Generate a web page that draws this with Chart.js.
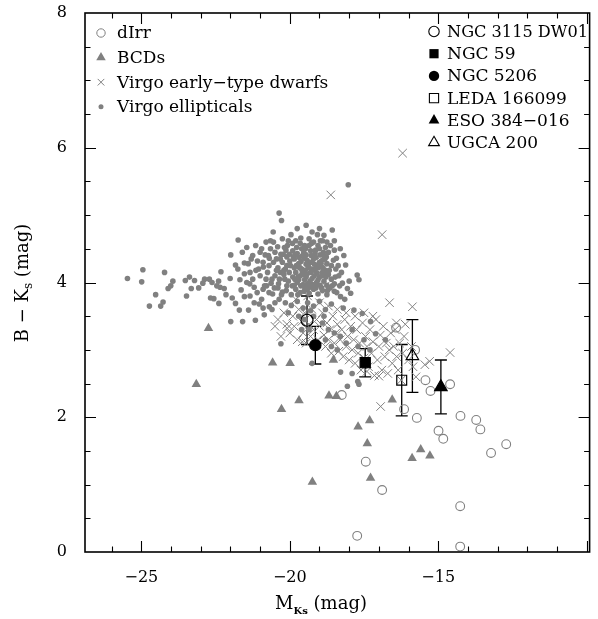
<!DOCTYPE html>
<html>
<head>
<meta charset="utf-8">
<script src="https://cdn.jsdelivr.net/npm/chart.js@4.4.1/dist/chart.umd.min.js"></script>
<style>
  html, body { margin: 0; padding: 0; background: #fff; overflow: hidden; }
  #wrap { width: 598px; height: 619px; }
</style>
</head>
<body>
<div id="wrap"><canvas id="chart"></canvas></div>
<script>
// ---- data: [M_Ks, B-Ks] ----
const virgoEllipticals = [
  [-25.47, 4.06], [-24.95, 4.19], [-24.99, 4.01], [-24.22, 4.15], [-24.52, 3.82], [-24.73, 3.65],
  [-24.35, 3.65], [-24.27, 3.71], [-24.1, 3.91], [-24.01, 3.95], [-23.94, 4.02], [-23.52, 4.03],
  [-23.38, 4.08], [-23.32, 3.91], [-23.48, 3.8], [-23.21, 4.03], [-23.07, 3.92], [-22.93, 3.99],
  [-22.87, 4.05], [-22.71, 4.05], [-22.62, 4.0], [-22.67, 3.77], [-22.56, 3.76], [-22.46, 3.95],
  [-22.4, 4.02], [-22.32, 4.16], [-22.35, 3.93], [-22.21, 3.91], [-22.15, 3.82], [-22.39, 3.69],
  [-21.99, 4.41], [-21.74, 4.63], [-21.83, 4.26], [-22.01, 4.06], [-21.94, 3.77], [-21.99, 3.42],
  [-21.59, 3.42], [-21.16, 3.44], [-21.83, 3.69], [-21.7, 3.59], [-21.53, 3.79], [-21.64, 3.89],
  [-21.68, 4.04], [-21.53, 4.13], [-21.53, 4.29], [-21.4, 4.28], [-21.34, 4.15], [-21.25, 4.05],
  [-21.2, 3.93], [-21.34, 3.8], [-21.39, 3.59], [-21.03, 3.68], [-20.86, 3.52], [-21.14, 4.18],
  [-21.09, 4.32], [-20.83, 4.41], [-20.89, 4.23], [-20.69, 4.36], [-20.56, 4.75], [-20.36, 5.03],
  [-20.28, 4.92], [-20.41, 4.53], [-20.63, 3.99], [-20.58, 3.83], [-20.69, 3.64], [-20.36, 3.75],
  [-19.96, 4.71], [-19.63, 4.66], [-19.35, 4.65], [-19.07, 4.71], [-19.91, 4.58], [-20.13, 4.48],
  [-19.5, 4.55], [-19.2, 4.6], [-18.9, 4.62], [-18.8, 4.52], [-19.8, 4.62], [-18.57, 4.78],
  [-18.03, 5.45], [-20.5, 4.45], [-20.3, 4.42], [-20.1, 4.38], [-19.9, 4.47], [-19.75, 4.43],
  [-19.6, 4.5], [-19.45, 4.41], [-19.3, 4.47], [-19.15, 4.43], [-19.0, 4.5], [-18.85, 4.4],
  [-18.7, 4.45], [-18.5, 4.48], [-19.85, 4.35], [-19.5, 4.36], [-19.2, 4.35], [-18.9, 4.33],
  [-18.43, 4.36], [-20.7, 4.25], [-20.55, 4.3], [-20.4, 4.22], [-20.25, 4.3], [-20.1, 4.25],
  [-20.0, 4.32], [-19.85, 4.22], [-19.7, 4.28], [-19.6, 4.2], [-19.45, 4.27], [-19.35, 4.22],
  [-19.25, 4.3], [-19.1, 4.24], [-19.0, 4.3], [-18.88, 4.22], [-18.75, 4.28], [-18.6, 4.25],
  [-18.45, 4.2], [-18.12, 4.26], [-20.45, 4.18], [-20.15, 4.2], [-19.8, 4.15], [-19.55, 4.12],
  [-19.3, 4.15], [-19.15, 4.18], [-18.9, 4.15], [-18.7, 4.12], [-21.0, 4.1], [-20.8, 4.05],
  [-20.5, 4.1], [-20.35, 4.05], [-20.2, 4.12], [-20.05, 4.02], [-19.9, 4.08], [-19.75, 4.0],
  [-19.65, 4.1], [-19.5, 4.04], [-19.4, 3.98], [-19.25, 4.06], [-19.1, 4.0], [-19.0, 4.08],
  [-18.85, 4.02], [-18.75, 3.96], [-18.6, 4.05], [-18.5, 3.98], [-18.23, 3.99], [-17.73, 4.11],
  [-17.67, 4.04], [-18.35, 4.1], [-20.9, 3.9], [-20.7, 3.85], [-20.4, 3.92], [-20.25, 3.86],
  [-20.1, 3.95], [-19.95, 3.82], [-19.8, 3.9], [-19.65, 3.85], [-19.5, 3.93], [-19.35, 3.84],
  [-19.2, 3.9], [-19.05, 3.83], [-18.9, 3.88], [-18.75, 3.82], [-18.06, 3.91], [-17.95, 3.84],
  [-18.29, 3.79], [-18.5, 3.87], [-20.15, 3.7], [-19.95, 3.66], [-19.75, 3.72], [-19.55, 3.62],
  [-19.4, 3.7], [-19.2, 3.65], [-19.0, 3.72], [-18.8, 3.6], [-18.6, 3.68], [-17.84, 3.59],
  [-17.56, 3.54], [-18.2, 3.62], [-19.82, 4.41], [-19.68, 4.37], [-19.53, 4.45], [-19.42, 4.33],
  [-19.28, 4.4], [-19.12, 4.37], [-18.98, 4.41], [-18.82, 4.35], [-19.78, 4.25], [-19.62, 4.31],
  [-19.48, 4.18], [-19.38, 4.24], [-19.22, 4.2], [-19.08, 4.14], [-18.95, 4.26], [-18.8, 4.18],
  [-19.72, 4.08], [-19.58, 4.16], [-19.45, 4.08], [-19.32, 4.02], [-19.18, 4.1], [-19.05, 4.04],
  [-18.92, 4.1], [-18.78, 4.08], [-19.85, 3.96], [-19.7, 4.04], [-19.55, 3.97], [-19.42, 3.9],
  [-19.3, 3.95], [-19.12, 3.92], [-18.98, 3.96], [-18.65, 3.92], [-20.02, 4.15], [-20.2, 4.18],
  [-20.32, 4.35], [-20.02, 4.42], [-20.18, 4.52], [-19.65, 4.58], [-19.35, 4.55], [-19.05, 4.55],
  [-18.75, 4.6], [-19.25, 4.75], [-19.75, 4.8], [-20.05, 4.62], [-18.85, 4.7],
  [-20.3, 3.09], [-17.28, 3.42], [-17.11, 3.24], [-16.78, 3.15], [-18.29, 2.67], [-17.9, 2.65],
  [-18.06, 2.46], [-17.71, 2.53], [-17.67, 2.49], [-19.25, 2.8], [-19.5, 3.45], [-19.2, 3.5],
  [-18.9, 3.4], [-18.7, 3.3], [-18.5, 3.25], [-18.3, 3.2], [-18.8, 3.15], [-18.1, 3.1],
  [-17.9, 3.3], [-17.7, 3.05], [-19.6, 3.3], [-19.35, 3.3], [-18.6, 3.05], [-18.4, 3.0],
  [-17.5, 3.15], [-17.3, 3.0],
  [-21.0, 4.45], [-20.9, 4.3], [-20.85, 3.95], [-20.75, 4.15], [-20.65, 4.5], [-20.6, 4.05],
  [-20.52, 3.92], [-20.45, 4.35], [-20.38, 3.98], [-20.32, 4.15], [-20.28, 3.82], [-20.22, 4.42],
  [-20.17, 4.05], [-20.12, 3.88], [-20.08, 4.55], [-19.98, 4.25], [-19.92, 3.95], [-19.88, 4.38],
  [-19.83, 4.05], [-19.77, 4.52], [-19.73, 3.82], [-19.67, 4.22], [-19.63, 3.95], [-19.57, 4.4],
  [-19.52, 3.87], [-19.47, 4.5], [-19.43, 4.12], [-19.37, 3.92], [-19.33, 4.3], [-19.27, 4.58],
  [-19.23, 3.97], [-19.17, 4.27], [-19.13, 4.48], [-19.07, 3.97], [-19.03, 4.22], [-18.97, 4.62],
  [-18.93, 3.92], [-18.87, 4.45], [-18.83, 4.12], [-18.77, 4.38], [-18.73, 3.88], [-18.67, 4.18],
  [-18.63, 4.55], [-18.57, 3.95], [-18.53, 4.33], [-18.47, 4.08], [-18.42, 3.85], [-18.37, 4.25],
  [-18.32, 3.95], [-18.26, 4.15], [-18.18, 4.4], [-18.15, 3.75], [-18.0, 4.02], [-20.8, 4.6],
  [-21.25, 4.4], [-21.35, 3.98], [-20.95, 3.75], [-20.5, 3.7], [-20.05, 3.55], [-19.7, 3.5],
  [-19.3, 3.58], [-18.85, 3.5], [-19.45, 4.85], [-19.0, 4.8], [-18.5, 4.62], [-18.3, 4.5],
  [-20.25, 4.65], [-20.65, 4.62],
  [-21.6, 4.45], [-21.45, 4.0], [-21.3, 4.35], [-21.2, 3.7], [-21.1, 3.85], [-21.05, 4.2],
  [-20.95, 4.5], [-20.9, 3.62], [-20.78, 3.95], [-20.72, 4.4], [-20.6, 3.6], [-20.55, 4.6],
  [-21.45, 4.52], [-21.75, 4.2], [-21.15, 4.55],
];

const virgoDwarfs = [
  [-16.2, 5.92], [-18.62, 5.3], [-16.89, 4.71], [-16.64, 3.7], [-15.87, 3.64], [-14.6, 2.96],
  [-15.29, 2.83], [-16.94, 2.16], [-16.11, 3.38], [-16.41, 3.4],
  [-20.4, 3.45], [-20.2, 3.55], [-20.1, 3.38], [-20.0, 3.25], [-19.9, 3.5], [-19.85, 3.35],
  [-19.75, 3.15], [-19.7, 3.6], [-19.6, 3.42], [-19.55, 3.25], [-19.5, 3.55], [-19.45, 3.1],
  [-19.35, 3.38], [-19.3, 3.2], [-19.25, 3.6], [-19.2, 3.3], [-19.1, 3.45], [-19.05, 3.15],
  [-19.0, 3.35], [-18.9, 3.55], [-18.85, 3.22], [-18.8, 3.05], [-18.75, 3.4], [-18.7, 3.15],
  [-18.65, 3.3], [-18.6, 2.95], [-18.55, 3.5], [-18.5, 3.1], [-18.45, 3.25], [-18.4, 3.38],
  [-18.35, 2.98], [-18.3, 3.15], [-18.25, 3.3], [-18.2, 2.9], [-18.15, 3.45], [-18.1, 3.05],
  [-18.05, 3.2], [-18.0, 2.85], [-17.95, 3.35], [-17.9, 3.0], [-17.85, 3.15], [-17.8, 2.8],
  [-17.75, 3.3], [-17.7, 2.95], [-17.65, 3.1], [-17.6, 2.7], [-17.55, 3.4], [-17.5, 2.88],
  [-17.45, 3.2], [-17.4, 3.05], [-17.35, 2.75], [-17.3, 3.3], [-17.25, 2.95], [-17.2, 3.12],
  [-17.15, 2.62], [-17.1, 3.45], [-17.05, 2.85], [-17.0, 3.05], [-16.95, 3.22], [-16.9, 2.7],
  [-16.85, 3.35], [-16.8, 2.9], [-16.75, 3.1], [-16.7, 2.65], [-16.65, 3.0], [-16.6, 3.25],
  [-16.55, 2.8], [-16.5, 3.05], [-16.45, 3.3], [-16.4, 2.9], [-16.35, 2.7], [-16.3, 3.1],
  [-16.25, 2.55], [-16.2, 2.95], [-16.15, 3.2], [-16.0, 2.85], [-15.9, 3.05], [-15.85, 2.75],
  [-15.75, 2.6], [-15.45, 2.78], [-19.8, 3.75], [-19.4, 3.8], [-19.0, 3.7], [-18.7, 3.65],
  [-18.4, 3.6], [-18.1, 3.55], [-17.8, 3.5], [-17.5, 3.55], [-17.2, 3.5], [-20.3, 3.2],
  [-20.5, 3.35], [-20.09, 3.32], [-19.58, 3.12], [-19.5, 4.2], [-19.1, 4.1], [-18.8, 3.95],
  [-18.9, 4.3], [-17.0, 2.61], [-17.4, 2.68],
];

const dIrr = [
  [-18.25, 2.33], [-16.15, 2.12], [-15.72, 1.99], [-15.26, 2.39], [-14.6, 2.49], [-15.43, 2.55],
  [-14.25, 2.02], [-13.72, 1.96], [-13.58, 1.82], [-14.99, 1.8], [-14.83, 1.68], [-12.71, 1.6],
  [-13.22, 1.47], [-17.44, 1.34], [-16.89, 0.92], [-14.26, 0.68], [-17.73, 0.24], [-14.26, 0.08],
  [-15.78, 3.0], [-16.42, 3.33],
];

const bcds = [
  [-22.74, 3.32], [-20.58, 2.81], [-19.99, 2.8], [-23.15, 2.49], [-18.53, 2.85], [-20.28, 2.12],
  [-19.69, 2.25], [-18.68, 2.32], [-18.43, 2.31], [-16.55, 2.26], [-17.7, 1.86], [-17.31, 1.95],
  [-17.39, 1.61], [-19.24, 1.04], [-17.28, 1.1], [-15.59, 1.52], [-15.88, 1.39], [-15.28, 1.43],
];

const refNames = ['NGC 3115 DW01', 'NGC 59', 'NGC 5206', 'LEDA 166099', 'ESO 384\u2212016', 'UGCA 200'];
const refX = [-19.42, -17.46, -19.14, -16.23, -14.91, -15.87];
const refY = [3.44, 2.81, 3.07, 2.55, 2.45, 2.91];
const refErr = [0.36, 0.21, 0.28, 0.53, 0.40, 0.54];

const xTickLabels = [-25, -20, -15];
const yTickLabels = [0, 2, 4, 6, 8];

// tick marks: every magnitude on x, every half magnitude on y
const xTicks = [];
for (let v = -26; v <= -10; v++) xTicks.push(v);
const yTicks = [];
for (let v = 0; v <= 8; v += 0.5) yTicks.push(v);

// ---- styling ----
const GRAY = '#808080';
const SERIF = '"DejaVu Serif", "Liberation Serif", serif';

// marker look for each reference galaxy, same order as refNames
const refStyles = [
  { pointStyle: 'circle', radius: 6, fill: false },
  { pointStyle: 'rect', radius: 7.2, fill: true },
  { pointStyle: 'circle', radius: 5.6, fill: true },
  { pointStyle: 'rect', radius: 7, fill: false },
  { pointStyle: 'triangle', radius: 7.2, fill: true },
  { pointStyle: 'triangle', radius: 7.2, fill: false },
];

const toPts = arr => arr.map(([x, y]) => ({ x, y }));

const datasets = [
  { label: 'Virgo ellipticals', data: toPts(virgoEllipticals), pointStyle: 'circle', pointRadius: 2.8,
    backgroundColor: GRAY, borderColor: GRAY, borderWidth: 0, order: 10 },
  { label: 'Virgo early\u2212type dwarfs', data: toPts(virgoDwarfs), pointStyle: 'crossRot', pointRadius: 6,
    borderColor: GRAY, backgroundColor: GRAY, borderWidth: 1, order: 9 },
  { label: 'dIrr', data: toPts(dIrr), pointStyle: 'circle', pointRadius: 4.4,
    borderColor: GRAY, backgroundColor: 'rgba(0,0,0,0)', borderWidth: 1.1, order: 8 },
  { label: 'BCDs', data: toPts(bcds), pointStyle: 'triangle', pointRadius: 5.5,
    borderColor: GRAY, backgroundColor: GRAY, borderWidth: 0, order: 7 },
];
refNames.forEach((name, i) => {
  const s = refStyles[i];
  datasets.push({
    label: name,
    data: [{ x: refX[i], y: refY[i] }],
    pointStyle: s.pointStyle,
    pointRadius: s.radius,
    borderColor: '#000',
    backgroundColor: s.fill ? '#000' : 'rgba(0,0,0,0)',
    borderWidth: 1.2,
    order: i,
  });
});

// small marker painter for the legends
function marker(ctx, style, x, y, r, color, fill, lw) {
  ctx.save();
  ctx.strokeStyle = color;
  ctx.fillStyle = color;
  ctx.lineWidth = lw || 1.1;
  ctx.beginPath();
  if (style === 'circle') {
    ctx.arc(x, y, r, 0, Math.PI * 2);
  } else if (style === 'rect') {
    ctx.rect(x - r, y - r, 2 * r, 2 * r);
  } else if (style === 'triangle') {
    ctx.moveTo(x, y - r);
    ctx.lineTo(x + r * 0.866, y + r * 0.5);
    ctx.lineTo(x - r * 0.866, y + r * 0.5);
    ctx.closePath();
  } else if (style === 'cross') {
    ctx.moveTo(x - r, y - r); ctx.lineTo(x + r, y + r);
    ctx.moveTo(x - r, y + r); ctx.lineTo(x + r, y - r);
    ctx.stroke();
    ctx.restore();
    return;
  }
  if (fill) ctx.fill(); else ctx.stroke();
  ctx.restore();
}

const framePlugin = {
  id: 'frame',
  beforeDatasetsDraw(chart) {
    // error bars for the reference galaxies
    const { ctx, scales: { x, y } } = chart;
    ctx.save();
    ctx.strokeStyle = '#000';
    ctx.lineWidth = 1.3;
    refX.forEach((v, i) => {
      const px = x.getPixelForValue(v);
      const top = y.getPixelForValue(refY[i] + refErr[i]);
      const bot = y.getPixelForValue(refY[i] - refErr[i]);
      ctx.beginPath();
      ctx.moveTo(px, top); ctx.lineTo(px, bot);
      ctx.moveTo(px - 6, top); ctx.lineTo(px + 6, top);
      ctx.moveTo(px - 6, bot); ctx.lineTo(px + 6, bot);
      ctx.stroke();
    });
    ctx.restore();
  },
  afterDraw(chart) {
    const { ctx, chartArea: a, scales: { x, y } } = chart;
    ctx.save();

    // legends
    ctx.fillStyle = '#000';
    ctx.font = '17px ' + SERIF;
    ctx.textBaseline = 'middle';
    ctx.textAlign = 'left';
    const leftRows = [
      ['dIrr', 'circle', 4.2, false],
      ['BCDs', 'triangle', 5.5, true],
      ['Virgo early\u2212type dwarfs', 'cross', 3.3, false],
      ['Virgo ellipticals', 'circle', 2.5, true],
    ];
    leftRows.forEach(([txt, st, r, fill], i) => {
      const ly = 33 + i * 24.6;
      marker(ctx, st, 101, ly, r, GRAY, fill, 1);
      ctx.fillText(txt, 117, ly + 1);
    });
    refNames.forEach((name, i) => {
      const ly = 31.5 + i * 22.2;
      const s = refStyles[i];
      const r = s.pointStyle === 'rect' ? 4.6 : s.pointStyle === 'triangle' ? 6.2 : 5.2;
      marker(ctx, s.pointStyle, 434, ly, r, '#000', s.fill, 1.1);
      ctx.fillText(name, 447, ly + 1, 141);
    });

    // frame
    ctx.strokeStyle = '#000';
    ctx.lineWidth = 1.6;
    ctx.strokeRect(a.left, a.top, a.right - a.left, a.bottom - a.top);

    // inward ticks on all four sides
    ctx.lineWidth = 1.1;
    ctx.beginPath();
    x.ticks.forEach(t => {
      if (t.value <= x.min || t.value >= x.max) return;
      const px = Math.round(x.getPixelForValue(t.value)) + 0.5;
      const len = t.value % 5 === 0 ? 11 : 5.5;
      ctx.moveTo(px, a.bottom); ctx.lineTo(px, a.bottom - len);
      ctx.moveTo(px, a.top); ctx.lineTo(px, a.top + len);
    });
    y.ticks.forEach(t => {
      if (t.value <= y.min || t.value >= y.max) return;
      const py = Math.round(y.getPixelForValue(t.value)) + 0.5;
      const len = t.value % 2 === 0 ? 11 : 5.5;
      ctx.moveTo(a.left, py); ctx.lineTo(a.left + len, py);
      ctx.moveTo(a.right, py); ctx.lineTo(a.right - len, py);
    });
    ctx.stroke();

    // axis titles with subscripts
    ctx.textBaseline = 'alphabetic';
    const big = '18px ' + SERIF, sub = 'bold 10px ' + SERIF;
    const parts = (items) => items.reduce((w, [t, f]) => { ctx.font = f; return w + ctx.measureText(t).width; }, 0);
    const xt = [['M', big, 0], ['Ks', sub, 5], [' (mag)', big, 0]];
    let cx = 321 - parts(xt) / 2;
    xt.forEach(([t, f, dy]) => { ctx.font = f; ctx.fillText(t, cx, 609 + dy); cx += ctx.measureText(t).width; });

    ctx.translate(28, 283);
    ctx.rotate(-Math.PI / 2);
    const yt = [['B \u2212 K', big, 0], ['s', '12px ' + SERIF, 4], [' (mag)', big, 0]];
    let cy = -parts(yt) / 2;
    yt.forEach(([t, f, dy]) => { ctx.font = f; ctx.fillText(t, cy, dy); cy += ctx.measureText(t).width; });
    ctx.restore();
  },
};

new Chart(document.getElementById('chart'), {
  type: 'scatter',
  data: { datasets },
  options: {
    responsive: true,
    maintainAspectRatio: false,
    animation: false,
    layout: { padding: { top: 13, right: 7, left: 0, bottom: 0 } },
    plugins: { legend: { display: false }, tooltip: { enabled: false } },
    scales: {
      x: {
        type: 'linear', min: -26.9, max: -9.9,
        grid: { display: false, drawTicks: false },
        border: { display: false },
        afterBuildTicks: s => { s.ticks = xTicks.map(v => ({ value: v })); },
        ticks: {
          autoSkip: false, maxRotation: 0, padding: 16, color: '#000',
          font: { family: SERIF, size: 16 },
          callback: v => xTickLabels.includes(v) ? '\u2212' + Math.abs(v) : '',
        },
        afterFit: s => { s.height = 67; s.paddingRight = 0; s.paddingLeft = 0; },
      },
      y: {
        min: 0, max: 8,
        grid: { display: false, drawTicks: false },
        border: { display: false },
        afterBuildTicks: s => { s.ticks = yTicks.map(v => ({ value: v })); },
        ticks: {
          autoSkip: false, padding: 18, color: '#000',
          font: { family: SERIF, size: 16 },
          callback: v => yTickLabels.includes(v) ? String(v) : '',
        },
        afterFit: s => { s.width = 85; s.paddingTop = 0; s.paddingBottom = 0; },
      },
    },
  },
  plugins: [framePlugin],
});
</script>
</body>
</html>
